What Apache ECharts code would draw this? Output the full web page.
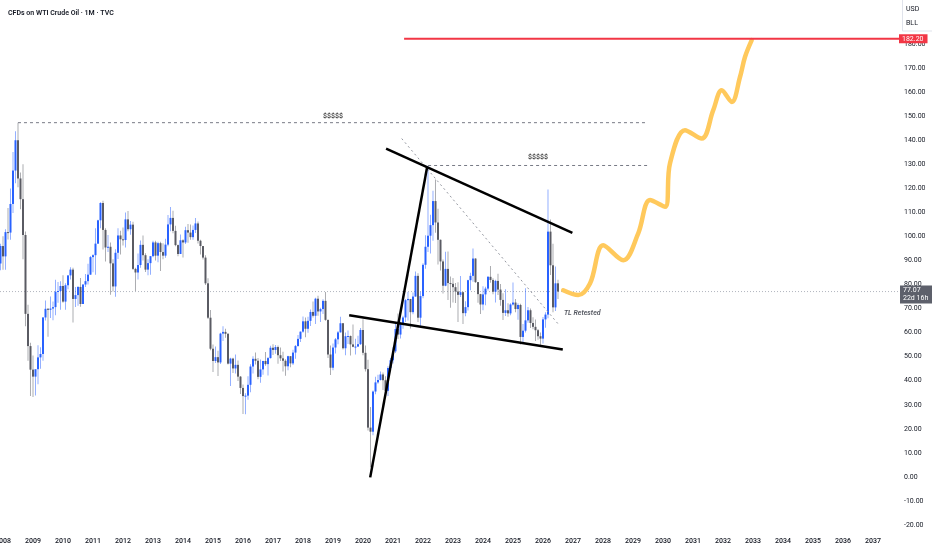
<!DOCTYPE html>
<html>
<head>
<meta charset="utf-8">
<script src="https://cdn.jsdelivr.net/npm/echarts@6/dist/echarts.min.js"></script>
<style>
html,body{margin:0;padding:0;background:#fff;}
#chart{width:932px;height:550px;}
</style>
</head>
<body>
<div id="chart"></div>
<script>
// ---------- DATA (monthly candles, first month = Dec 2007) ----------
const firstMonth = [2007, 12];
const opens = [
  88.7,
  96.0, 91.7, 101.8, 101.6, 113.5, 127.4, 140.0, 124.1, 115.5, 100.6, 67.8, 54.4,
  44.6, 41.7, 44.8, 49.7, 51.1, 66.3, 69.9, 69.5, 70.0, 70.6, 77.0, 77.3,
  79.4, 72.9, 79.7, 83.8, 86.2, 74.0, 75.6, 79.0, 71.9, 80.0, 81.4, 84.1,
  91.4, 92.2, 97.0, 106.7, 113.9, 102.7, 95.4, 95.7, 88.8, 79.2, 93.2, 100.4,
  98.8, 98.5, 107.1, 103.0, 104.9, 86.5, 85.0, 88.1, 96.5, 92.2, 86.2, 88.9,
  91.8, 97.5, 92.0, 97.2, 93.5, 92.0, 96.6, 105.0, 107.7, 102.3, 96.4, 92.7,
  98.4, 97.5, 102.6, 101.6, 99.7, 102.7, 105.4, 98.2, 96.0, 91.2, 80.5, 66.2,
  53.3, 48.2, 49.8, 47.6, 59.6, 60.3, 59.5, 47.1, 49.2, 45.1, 46.6, 41.7,
  37.0, 33.6, 33.8, 38.3, 45.9, 49.1, 48.3, 41.6, 44.7, 48.2, 46.9, 49.4,
  53.7, 52.8, 54.0, 50.6, 49.3, 48.3, 46.0, 50.2, 47.2, 51.7, 54.4, 57.4,
  60.4, 64.7, 61.6, 64.9, 68.6, 67.0, 74.1, 68.8, 69.8, 73.2, 65.3, 50.9,
  45.4, 53.8, 57.2, 60.1, 63.9, 53.5, 58.5, 58.6, 55.1, 54.1, 54.2, 55.2,
  61.1, 51.6, 44.8, 20.5, 18.8, 35.5, 39.3, 40.3, 42.6, 40.2, 35.8, 45.3,
  48.5, 52.2, 61.5, 59.2, 63.6, 66.3, 73.5, 74.0, 68.5, 75.0, 83.6, 66.2,
  75.2, 88.2, 95.7, 100.3, 104.7, 114.7, 105.8, 98.6, 89.6, 79.5, 86.5, 80.6,
  80.3, 78.9, 77.1, 75.7, 76.8, 68.1, 70.6, 81.8, 83.6, 90.8, 81.0, 76.0,
  71.7, 75.9, 78.3, 83.2, 81.9, 77.0, 81.5, 77.9, 73.6, 68.2, 69.3, 68.0,
  71.7, 72.5, 69.8, 71.5, 58.2, 60.8, 65.1, 69.3, 64.0, 62.4, 61.0, 58.5,
  57.5, 65.5, 67.5, 102.0, 88.0, 70.5, 80.5
];
const highs = [
  97.0,
  100.1, 103.0, 111.8, 119.9, 135.1, 143.7, 147.3, 126.6, 130.0, 102.0, 71.6, 55.8,
  50.5, 43.0, 54.7, 53.9, 66.5, 73.4, 70.2, 75.0, 72.9, 82.0, 81.0, 81.4,
  83.9, 80.5, 83.8, 87.2, 87.0, 79.0, 79.3, 82.7, 80.1, 84.4, 88.6, 91.9,
  92.6, 103.4, 106.9, 114.2, 114.8, 103.4, 100.6, 97.5, 90.5, 94.7, 103.4, 102.4,
  103.7, 110.0, 110.6, 106.4, 106.1, 87.0, 92.9, 98.3, 100.4, 93.0, 90.5, 91.9,
  98.2, 98.2, 97.8, 97.8, 97.2, 99.0, 108.9, 112.2, 110.7, 104.4, 96.6, 100.8,
  98.8, 104.0, 105.2, 105.0, 104.5, 107.7, 106.2, 98.6, 96.0, 92.2, 82.6, 69.4,
  55.1, 54.2, 52.5, 59.9, 62.6, 61.6, 59.8, 49.5, 49.5, 50.9, 48.4, 42.0,
  38.4, 34.8, 41.9, 46.8, 50.2, 51.7, 49.4, 48.8, 48.3, 51.9, 49.9, 54.5,
  55.2, 54.9, 54.6, 53.8, 52.0, 48.9, 50.4, 50.2, 52.9, 54.8, 59.0, 60.5,
  66.7, 66.3, 66.6, 69.6, 72.9, 74.5, 75.3, 70.3, 73.9, 76.9, 65.4, 54.6,
  55.5, 57.8, 60.7, 66.6, 64.0, 60.0, 60.9, 58.8, 63.4, 57.4, 58.7, 61.9,
  65.6, 54.6, 48.7, 29.1, 35.9, 41.6, 42.5, 43.8, 43.4, 41.9, 46.0, 49.4,
  53.9, 63.8, 67.9, 64.5, 67.0, 74.0, 76.9, 74.0, 76.7, 85.4, 84.7, 77.0,
  88.8, 100.5, 129.4, 109.0, 119.0, 123.7, 111.5, 98.7, 90.4, 93.6, 93.7, 83.3,
  82.7, 80.6, 80.9, 83.5, 77.0, 73.0, 82.0, 84.9, 95.0, 90.9, 81.0, 76.2,
  79.3, 79.1, 83.5, 87.7, 82.6, 82.0, 84.5, 80.2, 76.4, 78.0, 72.2, 72.2,
  80.8, 74.0, 72.2, 72.0, 63.6, 78.4, 70.7, 70.0, 66.4, 65.5, 61.5, 60.0,
  66.5, 68.5, 119.5, 107.0, 97.0, 87.5, 82.0
];
const lows = [
  85.9,
  86.1, 86.1, 98.7, 98.6, 109.7, 122.1, 120.4, 111.3, 90.5, 62.7, 48.3, 33.6,
  33.2, 33.9, 38.5, 45.0, 48.3, 65.0, 58.3, 66.1, 65.1, 67.2, 72.4, 69.5,
  72.4, 69.5, 78.0, 82.1, 64.2, 70.7, 71.2, 70.8, 71.9, 79.0, 80.0, 84.1,
  85.1, 84.1, 96.8, 103.4, 94.6, 89.6, 93.5, 75.7, 77.1, 74.9, 90.6, 92.5,
  96.2, 95.4, 102.2, 100.7, 86.0, 77.3, 82.1, 87.0, 90.0, 85.2, 83.9, 84.1,
  91.3, 90.0, 89.3, 85.6, 90.5, 91.1, 95.9, 102.2, 101.3, 95.9, 91.8, 92.7,
  91.2, 96.8, 97.4, 98.6, 98.6, 101.4, 97.1, 92.5, 90.4, 79.8, 65.7, 52.7,
  43.6, 47.4, 42.0, 47.0, 56.5, 57.9, 46.7, 37.8, 43.2, 43.0, 39.9, 34.5,
  26.2, 26.1, 32.1, 35.2, 43.0, 46.7, 40.6, 39.2, 42.5, 46.2, 42.2, 49.2,
  50.7, 51.2, 47.1, 48.2, 43.8, 42.1, 44.4, 45.6, 46.5, 49.1, 54.2, 56.1,
  59.9, 58.1, 59.9, 62.8, 66.3, 63.6, 67.0, 64.4, 67.7, 64.9, 49.4, 42.4,
  44.4, 51.3, 55.2, 60.0, 53.0, 50.6, 55.3, 50.5, 53.9, 50.9, 54.0, 54.9,
  50.6, 43.8, 19.3, 4.0, 17.3, 34.4, 38.7, 40.1, 36.1, 34.9, 33.6, 44.4,
  47.2, 51.5, 57.3, 57.6, 61.6, 64.4, 65.0, 61.7, 67.6, 74.9, 64.4, 62.4,
  74.3, 86.6, 93.5, 92.9, 98.2, 101.5, 88.3, 85.8, 76.3, 79.3, 73.6, 70.3,
  72.5, 72.3, 64.4, 74.8, 63.6, 66.8, 69.2, 77.6, 81.2, 80.6, 72.4, 67.7,
  69.3, 71.4, 77.5, 80.7, 76.0, 72.5, 75.6, 71.2, 65.2, 66.9, 66.6, 67.2,
  71.3, 68.5, 65.3, 55.1, 55.3, 60.0, 64.1, 61.9, 61.4, 56.5, 57.0, 54.9,
  55.5, 62.0, 66.0, 84.0, 68.5, 69.0, 74.0
];
const closes = [
  96.0,
  91.7, 101.8, 101.6, 113.5, 127.4, 140.0, 124.1, 115.5, 100.6, 67.8, 54.4, 44.6,
  41.7, 44.8, 49.7, 51.1, 66.3, 69.9, 69.5, 70.0, 70.6, 77.0, 77.3, 79.4,
  72.9, 79.7, 83.8, 86.2, 74.0, 75.6, 79.0, 71.9, 80.0, 81.4, 84.1, 91.4,
  92.2, 97.0, 106.7, 113.9, 102.7, 95.4, 95.7, 88.8, 79.2, 93.2, 100.4, 98.8,
  98.5, 107.1, 103.0, 104.9, 86.5, 85.0, 88.1, 96.5, 92.2, 86.2, 88.9, 91.8,
  97.5, 92.0, 97.2, 93.5, 92.0, 96.6, 105.0, 107.7, 102.3, 96.4, 92.7, 98.4,
  97.5, 102.6, 101.6, 99.7, 102.7, 105.4, 98.2, 96.0, 91.2, 80.5, 66.2, 53.3,
  48.2, 49.8, 47.6, 59.6, 60.3, 59.5, 47.1, 49.2, 45.1, 46.6, 41.7, 37.0,
  33.6, 33.8, 38.3, 45.9, 49.1, 48.3, 41.6, 44.7, 48.2, 46.9, 49.4, 53.7,
  52.8, 54.0, 50.6, 49.3, 48.3, 46.0, 50.2, 47.2, 51.7, 54.4, 57.4, 60.4,
  64.7, 61.6, 64.9, 68.6, 67.0, 74.1, 68.8, 69.8, 73.2, 65.3, 50.9, 45.4,
  53.8, 57.2, 60.1, 63.9, 53.5, 58.5, 58.6, 55.1, 54.1, 54.2, 55.2, 61.1,
  51.6, 44.8, 20.5, 18.8, 35.5, 39.3, 40.3, 42.6, 40.2, 35.8, 45.3, 48.5,
  52.2, 61.5, 59.2, 63.6, 66.3, 73.5, 74.0, 68.5, 75.0, 83.6, 66.2, 75.2,
  88.2, 95.7, 100.3, 104.7, 114.7, 105.8, 98.6, 89.6, 79.5, 86.5, 80.6, 80.3,
  78.9, 77.1, 75.7, 76.8, 68.1, 70.6, 81.8, 83.6, 90.8, 81.0, 76.0, 71.7,
  75.9, 78.3, 83.2, 81.9, 77.0, 81.5, 77.9, 73.6, 68.2, 69.3, 68.0, 71.7,
  72.5, 69.8, 71.5, 58.2, 60.8, 65.1, 69.3, 64.0, 62.4, 61.0, 58.5, 57.5,
  65.5, 67.5, 102.0, 88.0, 70.5, 80.5, 77.07
];

// tick labels
const yearTicks = [2008,2009,2010,2011,2012,2013,2014,2015,2016,2017,2018,2019,2020,2021,2022,
  2023,2024,2025,2026,2027,2028,2029,2030,2031,2032,2033,2034,2035,2036,2037];

// annotations ([decimal year, price])
const lastPrice = 77.07;
const lastPriceTimer = '22d 16h';
const targetPrice = 182.20;
const targetLine = [[2021.37, 182.2], [2037.867, 182.2]];
const high2008Line = [[2008.5, 147.3], [2029.5, 147.3]];
const high2022Line = [[2022.17, 129.5], [2029.57, 129.5]];
const upperTrend = [[2020.77, 136.5], [2026.98, 101.5]];
const lowerTrend = [[2019.54, 67.2], [2026.66, 53.0]];
const steepTrend = [[2020.24, -0.2], [2022.14, 129.0]];
const dottedTrend = [[2021.29, 140.7], [2026.54, 63.1]];
const forecastPath = [
  [2026.675, 77.6], [2027.175, 75.6], [2027.567, 80.4], [2028.008, 96.3],
  [2028.675, 90.1], [2029.175, 101.3], [2029.567, 115.1], [2030.067, 112.3],
  [2030.233, 130.4], [2030.733, 144.2], [2031.292, 140.7], [2031.675, 152.5],
  [2031.958, 160.8], [2032.292, 155.9], [2032.567, 166.3], [2032.733, 174.6],
  [2032.958, 181.6]
];
const dollarLabels = [[2019.0, 150.1], [2025.83, 132.8]];
const retestLabel = [2026.68, 68.2];

// ---------- BUILD ----------
const X_MIN = 2007.9, X_MAX = 2037.867;
const candleRows = closes.map((c, i) => {
  const mIdx = firstMonth[1] - 1 + i;
  const yr = firstMonth[0] + Math.floor(mIdx / 12);
  const mo = mIdx % 12;
  return [yr + mo / 12, opens[i], highs[i], lows[i], c];
});

const UP = '#2962ff', DOWN = '#5a5b63';
const UP_WICK = 'rgba(41,98,255,0.5)', DOWN_WICK = 'rgba(90,91,99,0.5)';

function renderCandle(params, api) {
  const x = api.value(0), o = api.value(1), h = api.value(2), l = api.value(3), c = api.value(4);
  const pO = api.coord([x, o]), pC = api.coord([x, c]);
  const pH = api.coord([x, h]), pL = api.coord([x, l]);
  const up = c >= o;
  const cx = pO[0];
  const top = Math.min(pO[1], pC[1]);
  const hgt = Math.max(1, Math.abs(pO[1] - pC[1]));
  return {
    type: 'group',
    children: [
      { type: 'rect', shape: { x: cx - 0.5, y: pH[1], width: 1, height: pL[1] - pH[1] },
        style: { fill: up ? UP_WICK : DOWN_WICK } },
      { type: 'rect', shape: { x: cx - 1, y: top, width: 2, height: hgt },
        style: { fill: up ? UP : DOWN } }
    ]
  };
}

const FONT = 'Roboto, "Liberation Sans", sans-serif';
const TXT = '#131722';

function lineSeries(data, style, extra) {
  return Object.assign({
    type: 'line', data: data, symbol: 'none', silent: true, z: 5,
    lineStyle: style, animation: false
  }, extra || {});
}

const chart = echarts.init(document.getElementById('chart'), null, { renderer: 'canvas' });
chart.setOption({
  animation: false,
  backgroundColor: '#ffffff',
  title: {
    text: 'CFDs on WTI Crude Oil · 1M · TVC',
    left: 3, top: 5,
    textStyle: { fontSize: 7, fontWeight: 600, color: TXT, fontFamily: FONT }
  },
  grid: { left: 0, right: 33, top: 20, bottom: 25, containLabel: false, outerBoundsMode: 'none' },
  xAxis: {
    type: 'value', min: X_MIN, max: X_MAX,
    axisLine: { show: false }, axisTick: { show: false }, splitLine: { show: false },
    axisLabel: {
      customValues: yearTicks,
      formatter: v => String(Math.round(v)),
      fontSize: 7, color: TXT, fontFamily: FONT, margin: 13, fontWeight: 500
    }
  },
  yAxis: {
    type: 'value', position: 'right', min: -20, max: 190, interval: 10,
    axisLine: { show: false }, axisTick: { show: false }, splitLine: { show: false },
    axisLabel: {
      formatter: v => (v > 185 ? '' : v.toFixed(2)),
      fontSize: 7, color: TXT, fontFamily: FONT, margin: 5
    }
  },
  series: [
    {
      type: 'custom', renderItem: renderCandle, data: candleRows, clip: true, z: 2,
      encode: { x: 0, y: [1, 2, 3, 4] }, silent: true
    },
    // last price dotted line with axis label
    lineSeries([[X_MIN, lastPrice], [X_MAX, lastPrice]],
      { color: '#b2b5be', width: 1, type: [1, 2] },
      { z: 1, endLabel: {
          show: true, formatter: lastPrice.toFixed(2) + '\n' + lastPriceTimer,
          backgroundColor: '#5d606b', color: '#ffffff', fontSize: 7, lineHeight: 8,
          fontFamily: FONT, padding: [1, 4, 1, 3], distance: 1, offset: [0, 3]
        } }),
    // dashed highs
    lineSeries(high2008Line, { color: '#787b86', width: 1, type: [3, 3] }),
    lineSeries(high2022Line, { color: '#787b86', width: 1, type: [3, 3] }),
    // dotted diagonal
    lineSeries(dottedTrend, { color: '#9598a1', width: 1, type: [2, 3] }),
    // black trendlines
    lineSeries(upperTrend, { color: '#000000', width: 2.5 }),
    lineSeries(lowerTrend, { color: '#000000', width: 2.5 }),
    lineSeries(steepTrend, { color: '#000000', width: 2.5 }),
    // forecast path
    lineSeries(forecastPath, { color: '#ffc95c', width: 4.5, cap: 'round', join: 'round' },
      { smooth: 0.35, z: 6 }),
    // target line
    lineSeries(targetLine, { color: '#f23645', width: 2 },
      { z: 7, endLabel: {
          show: true, formatter: targetPrice.toFixed(2),
          backgroundColor: '#f23645', color: '#ffffff', fontSize: 7,
          fontFamily: FONT, padding: [1, 4, 1, 3], distance: 0
        } }),
    // text labels
    {
      type: 'scatter', data: dollarLabels, symbolSize: 1, itemStyle: { color: 'transparent' }, silent: true, z: 8,
      label: { show: true, position: 'inside', formatter: '$$$$$', fontSize: 7, color: '#000000',
        fontFamily: FONT, fontWeight: 600 }
    },
    {
      type: 'scatter', data: [retestLabel], symbolSize: 1, itemStyle: { color: 'transparent' }, silent: true, z: 8,
      label: { show: true, position: 'right', distance: 0, formatter: 'TL Retested', fontSize: 7,
        fontStyle: 'italic', fontWeight: 600, color: '#2a2e39', fontFamily: FONT }
    }
  ],
  graphic: [
    { type: 'rect', shape: { x: 902.5, y: -1, width: 31, height: 32 },
      style: { fill: 'none', stroke: '#e0e3eb', lineWidth: 1 } },
    { type: 'text', x: 906, y: 9, style: { text: 'USD', fontSize: 7, fill: TXT, fontFamily: FONT, verticalAlign: 'middle' } },
    { type: 'text', x: 906, y: 23, style: { text: 'BLL', fontSize: 7, fill: TXT, fontFamily: FONT, verticalAlign: 'middle' } }
  ]
});
</script>
</body>
</html>
